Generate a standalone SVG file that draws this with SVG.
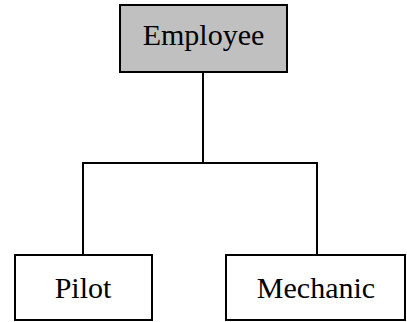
<svg xmlns="http://www.w3.org/2000/svg" width="407" height="322" viewBox="0 0 407 322">
<style>
.box{fill:#ffffff;stroke:#000000;stroke-width:2}
.top{fill:#c0c0c0}
.lbl{font-family:"Liberation Serif","Times New Roman",serif;font-size:30px;fill:#000000;text-anchor:middle}
.conn{fill:none;stroke:#000000;stroke-width:2}
</style>
<rect width="407" height="322" fill="#ffffff"/>
<g id="connectors">
<path class="conn" d="M203,72 V163 M83,163 H317 M83,162 V255 M317,162 V255"/>
</g>
<g id="employee">
<rect class="box top" x="120" y="5" width="167" height="67"/>
<text class="lbl" x="203.5" y="45">Employee</text>
</g>
<g id="pilot">
<rect class="box" x="15" y="255" width="137" height="65"/>
<text class="lbl" x="83" y="298">Pilot</text>
</g>
<g id="mechanic">
<rect class="box" x="226" y="255" width="179" height="65"/>
<text class="lbl" x="316" y="298">Mechanic</text>
</g>
</svg>
